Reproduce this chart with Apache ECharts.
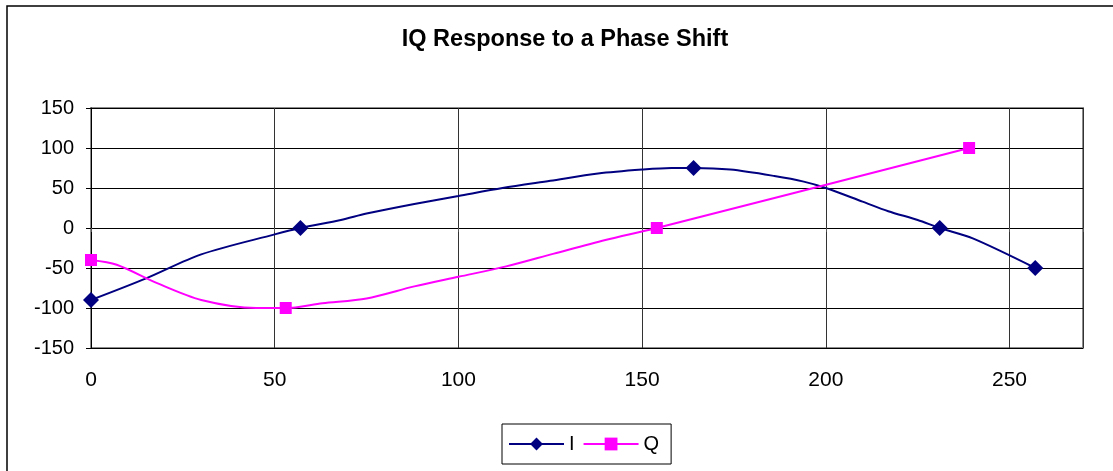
<!DOCTYPE html>
<html>
<head>
<meta charset="utf-8">
<script src="https://cdn.jsdelivr.net/npm/echarts@6/dist/echarts.min.js"></script>
<style>
  html, body { margin: 0; padding: 0; background: #fff; }
  #chart { width: 1113px; height: 471px; }
</style>
</head>
<body>
<div id="chart"></div>
<script>
// values
const iX = [0, 15, 30, 50, 57, 68, 75, 88, 100, 112, 125, 138, 150, 158, 164, 174, 186, 194, 200, 210, 217, 225, 231, 240, 257];
const iY = [-90, -63, -33, -8, 0, 10, 18, 30, 40, 50, 59, 68, 73, 75, 75, 73, 65, 58, 50, 33, 21, 10, 0, -13, -50];
const iMarkX = [0, 57, 164, 231, 257];

const qX = [0, 7, 18, 30, 45, 53, 63, 75, 88, 100, 113, 126, 140, 154, 239];
const qY = [-40, -46, -69, -90, -100, -100, -94, -88, -73, -61, -48, -32, -15, 0, 100];
const qMarkX = [0, 53, 154, 239];

const xTicks = [0, 50, 100, 150, 200, 250];
const yTicks = [-150, -100, -50, 0, 50, 100, 150];

// points without a marker get symbol none
const toData = (xs, ys, marks) => xs.map((x, i) => (
  marks.includes(x) ? [x, ys[i]] : {value: [x, ys[i]], symbol: 'none'}
));

const chart = echarts.init(document.getElementById('chart'));

const font = 'Arial, "Liberation Sans", sans-serif';

chart.setOption({
  backgroundColor: '#fff',
  animation: false,
  title: {
    text: 'IQ Response to a Phase Shift',
    left: 560,
    textAlign: 'center',
    top: 23,
    textStyle: {fontFamily: font, fontSize: 23.5, fontWeight: 'bold', color: '#000'},
  },
  graphic: [{
    type: 'rect',
    shape: {x: 7, y: 6, width: 1300, height: 700},
    style: {fill: 'none', stroke: '#000', lineWidth: 1.5},
    silent: true,
  }],
  legend: {
    left: 502,
    top: 424,
    padding: [10, 12, 10, 6],
    itemGap: 8,
    itemWidth: 55,
    itemHeight: 16,
    borderColor: '#000',
    borderWidth: 1,
    textStyle: {fontFamily: font, fontSize: 20, color: '#000'},
    data: ['I', 'Q'],
  },
  grid: {
    left: 91,
    top: 108,
    right: 30,
    bottom: 123,
    show: true,
    borderColor: '#8c8c8c',
    borderWidth: 2,
  },
  xAxis: [{
    type: 'value',
    min: 0,
    max: 270,
    interval: 50,
    axisLine: {show: false},
    axisTick: {show: false},
    axisLabel: {
      showMaxLabel: false,
      margin: 22,
      fontFamily: font,
      fontSize: 21,
      color: '#000',
      formatter: (v) => (xTicks.includes(v) ? String(v) : ''),
    },
    splitLine: {show: true, lineStyle: {color: '#333', width: 1}},
  }, {
    // small ticks on the zero line
    type: 'value',
    position: 'bottom',
    offset: -120,
    min: 0,
    max: 270,
    interval: 50,
    axisLine: {show: false},
    axisTick: {show: true, length: 4, lineStyle: {color: '#555'}},
    axisLabel: {show: false},
    splitLine: {show: false},
  }],
  yAxis: {
    type: 'value',
    min: -150,
    max: 150,
    interval: 50,
    axisLine: {show: true, lineStyle: {color: '#000', width: 1}},
    axisTick: {show: true, length: 5, lineStyle: {color: '#000'}},
    axisLabel: {
      margin: 17,
      fontFamily: font,
      fontSize: 20,
      color: '#000',
      formatter: (v) => (yTicks.includes(v) ? String(v) : ''),
    },
    splitLine: {show: true, lineStyle: {color: '#000', width: 1}},
  },
  series: [
    {
      name: 'I',
      type: 'line',
      smooth: 0.3,
      symbol: 'diamond',
      symbolSize: 16,
      itemStyle: {color: '#000080'},
      lineStyle: {color: '#000080', width: 2},
      data: toData(iX, iY, iMarkX),
    },
    {
      name: 'Q',
      type: 'line',
      smooth: 0.3,
      symbol: 'rect',
      symbolSize: 12,
      itemStyle: {color: '#ff00ff'},
      lineStyle: {color: '#ff00ff', width: 2},
      data: toData(qX, qY, qMarkX),
    },
  ],
});
</script>
</body>
</html>
